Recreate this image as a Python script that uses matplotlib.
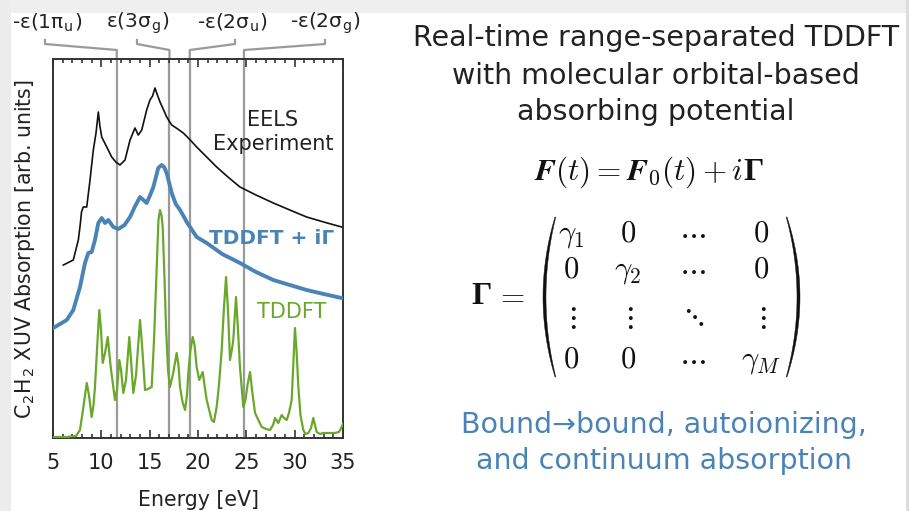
import numpy as np
import matplotlib
matplotlib.use("Agg")
import matplotlib.pyplot as plt
from matplotlib import transforms
from matplotlib.patches import Polygon, Rectangle

plt.rcParams['font.family'] = ['DejaVu Sans']
plt.rcParams['mathtext.fontset'] = 'cm'

W, H = 909, 511

# ---------------- data (energy eV, absorption arb. units) ----------------
eels_E = [6.07, 7.10, 7.62, 7.80, 7.95, 8.13, 8.49, 8.83, 9.17, 9.45, 9.69, 9.85, 10.04,
          10.56, 11.07, 11.50, 11.93, 12.45, 12.97, 13.48, 13.82, 14.18, 14.69, 15.03,
          15.30, 15.55, 15.80, 16.07, 16.40, 16.76, 17.28, 17.90, 18.48, 19.20, 19.86,
          20.90, 21.93, 23.10, 24.34, 26.00, 27.79, 29.50, 31.24, 33.00, 34.86]
eels_V = [173, 178, 198, 212, 226, 231, 231, 258, 288, 305, 326, 312, 301,
          291, 281, 276, 273, 278, 298, 310, 303, 308, 328, 338,
          342, 350, 343, 336, 329, 321, 313, 309, 305, 298, 291,
          281, 271, 261, 251, 243, 235, 228, 221, 216, 211]

tddft_ig_E = [5.03, 6.42, 7.10, 7.79, 8.31, 8.65, 9.00, 9.34, 9.69, 10.04, 10.38, 10.72,
              11.24, 11.75, 12.40, 12.97, 13.50, 14.00, 14.35, 14.69, 15.05, 15.38,
              15.89, 16.24, 16.50, 16.76, 17.28, 17.70, 18.14, 18.50, 18.83, 19.86,
              20.90, 22.50, 24.34, 26.00, 27.79, 29.50, 31.24, 33.00, 34.86]
tddft_ig_V = [110, 118, 128, 151, 175, 185, 186, 198, 215, 220, 215, 218,
              211, 209, 213, 221, 232, 241, 238, 235, 243, 251,
              270, 273, 271, 265, 245, 234, 228, 222, 216, 201,
              195, 184, 175, 166, 158, 153, 148, 144, 140]

tddft_E = [5.00, 6.42, 7.38, 7.79, 8.10, 8.49, 8.72, 9.00, 9.19, 9.34, 9.55, 9.79, 9.97,
           10.14, 10.38, 10.66, 10.97, 11.21, 11.41, 11.62, 11.86, 12.04, 12.27, 12.55,
           12.89, 13.07, 13.31, 13.59, 14.00, 14.21, 14.52, 14.83, 15.21, 15.45, 15.73,
           15.91, 16.07, 16.22, 16.35, 16.54, 16.69, 16.90, 17.10, 17.44, 17.79, 17.98,
           18.14, 18.40, 18.66, 18.86, 19.00, 19.22, 19.45, 19.64, 19.86, 20.13, 20.49,
           20.67, 20.90, 21.41, 21.65, 21.93, 22.17, 22.45, 22.67, 22.90, 23.10, 23.31,
           23.50, 23.65, 23.93, 24.14, 24.34, 24.69, 24.91, 25.12, 25.38, 25.59, 25.90,
           26.59, 27.04, 27.45, 27.76, 27.97, 28.31, 28.66, 28.90, 29.17, 29.41, 29.69,
           29.88, 30.03, 30.19, 30.38, 30.60, 30.89, 31.12, 31.41, 31.69, 31.93, 32.10,
           32.28, 32.62, 32.96, 33.66, 34.17, 34.59, 34.86, 35.00]
tddft_V = [1, 1, 2, 8, 28, 55, 43, 21, 33, 51, 88, 128, 108,
           75, 85, 101, 71, 53, 38, 48, 78, 68, 45, 58,
           101, 78, 45, 63, 118, 93, 48, 49, 51, 98, 171,
           218, 228, 223, 211, 158, 111, 68, 51, 65, 85, 73,
           51, 36, 28, 43, 65, 88, 101, 93, 71, 58, 66,
           53, 38, 18, 16, 31, 53, 88, 128, 161, 128, 78,
           88, 98, 141, 108, 71, 31, 38, 53, 66, 48, 25,
           11, 9, 8, 13, 20, 15, 23, 20, 18, 25, 38,
           78, 110, 88, 51, 23, 8, 4, 5, 10, 20, 13,
           6, 4, 5, 5, 5, 6, 11, 14]

orbital_E = [11.6, 17.05, 19.15, 24.75]
orbital_labels = ['-ε(1π$_\\mathregular{u}$)', 'ε(3σ$_\\mathregular{g}$)',
                  '-ε(2σ$_\\mathregular{u}$)', '-ε(2σ$_\\mathregular{g}$)']
label_E = [4.35, 13.74, 23.52, 33.14]
xticks = [5, 10, 15, 20, 25, 30, 35]

BLACK = '#111111'
BLUE = '#4a84b6'
GREEN = '#6aa82c'
GRAY = '#9a9a9a'


def P(x, y):
    return (x / W, 1 - y / H)


fig = plt.figure(figsize=(W / 100, H / 100), dpi=100)
fig.patch.set_facecolor('white')

# light gray page borders
fig.add_artist(Rectangle(P(0, 13), 1, 13 / H, transform=fig.transFigure,
                         facecolor='#efefef', edgecolor='none', zorder=-5))
fig.add_artist(Rectangle(P(0, H), 11 / W, 1, transform=fig.transFigure,
                         facecolor='#ececec', edgecolor='none', zorder=-5))
fig.add_artist(Rectangle(P(906, H), 3 / W, 1, transform=fig.transFigure,
                         facecolor='#dddddd', edgecolor='none', zorder=-5))

ax = fig.add_axes([53 / W, (H - 438) / H, (343 - 53) / W, (438 - 59) / H])
ax.set_facecolor('none')
ax.set_xlim(5, 35)
ax.set_ylim(0, 379)

for e in orbital_E:
    ax.axvline(e, color=GRAY, lw=1.6, zorder=1)

ax.plot(eels_E, eels_V, color=BLACK, lw=1.2, zorder=3)
ax.plot(tddft_ig_E, tddft_ig_V, color=BLUE, lw=2.8, zorder=3)
ax.plot(tddft_E, tddft_V, color=GREEN, lw=1.6, zorder=3)

for s in ax.spines.values():
    s.set_color('#333333')
    s.set_linewidth(1.4)
ax.set_yticks([])
ax.set_xticks(xticks)
ax.set_xticklabels([str(t) for t in xticks])
ax.set_xticks(np.arange(5, 36, 1), minor=True)
ax.tick_params(axis='x', which='major', direction='in', top=True, bottom=True,
               length=6, width=1.2, labelsize=15, pad=11, colors='#333333',
               labelcolor='#222222')
ax.tick_params(axis='x', which='minor', direction='in', top=True, bottom=True,
               length=3, width=1.2, colors='#333333')

# connectors from orbital labels to vertical lines
blend = transforms.blended_transform_factory(ax.transData, fig.transFigure)
starts = [4.17, 13.69, 23.83, 33.14]
for e0, e1 in zip(starts, orbital_E):
    xs = [e0, e0, e1, e1]
    ys = [1 - 40 / H, 1 - 44 / H, 1 - 50 / H, 1 - 59 / H]
    ax.plot(xs, ys, transform=blend, color=GRAY, lw=1.6, clip_on=False)
for e, lab in zip(label_E, orbital_labels):
    fig.text(e, 1 - 23 / H, lab, transform=blend, ha='center', va='center',
             fontsize=14.5, color='#222222')

# in-plot labels
fig.text(*P(273, 120), 'EELS', ha='center', va='center', fontsize=15, color='#222222')
fig.text(*P(273, 144), 'Experiment', ha='center', va='center', fontsize=15, color='#222222')
fig.text(*P(272, 238), 'TDDFT + iΓ', ha='center', va='center', fontsize=14.5,
         fontweight='bold', color=BLUE)
fig.text(*P(292, 312), 'TDDFT', ha='center', va='center', fontsize=15, color=GREEN)

fig.text(*P(25, 249), 'C$_\\mathregular{2}$H$_\\mathregular{2}$ XUV Absorption [arb. units]',
         rotation=90, ha='center', va='center', fontsize=14.8, color='#222222')
fig.text(*P(198, 500), 'Energy [eV]', ha='center', va='center', fontsize=14.8, color='#222222')

# right-hand side text
title_lines = ['Real-time range-separated TDDFT', 'with molecular orbital-based',
               'absorbing potential']
title_base = [46, 84, 120]
for t, yb in zip(title_lines, title_base):
    fig.text(*P(656, yb), t, ha='center', va='baseline', fontsize=20.5, color='#222222')

# F(t) = F0(t) + i Gamma
fig.text(*P(743, 180), r'$\boldsymbol{F}(t) = \boldsymbol{F}_0(t) + i$',
         ha='right', va='baseline', fontsize=22.5, color='#111111')
fig.text(*P(743, 180), 'Γ', ha='left', va='baseline', fontsize=23,
         fontfamily='Liberation Serif', fontweight='bold', color='#111111')

# Gamma =
fig.text(*P(471, 304), 'Γ', ha='left', va='baseline', fontsize=23,
         fontfamily='Liberation Serif', fontweight='bold', color='#111111')
fig.text(*P(510, 304), r'$=$', ha='center', va='baseline', fontsize=22.5,
         color='#111111')

matrix = [[r'$\gamma_1$', '$0$', r'$\cdots$', '$0$'],
          ['$0$', r'$\gamma_2$', r'$\cdots$', '$0$'],
          [r'$\vdots$', r'$\vdots$', r'$\ddots$', r'$\vdots$'],
          ['$0$', '$0$', r'$\cdots$', r'$\gamma_M$']]
col_x = [571, 628, 692, 761]
row_base = [242, 278, None, 368]
for r, row in enumerate(matrix):
    for c, ent in enumerate(row):
        if row_base[r] is None:
            fig.text(*P(col_x[c], 317), ent, ha='center', va='center', fontsize=22,
                     color='#111111')
        else:
            fig.text(*P(col_x[c], row_base[r]), ent, ha='center', va='baseline',
                     fontsize=22, color='#111111')

# parentheses
t = np.linspace(-1, 1, 60)
yy = 297 + 80 * t
outer_l = 543 + 12 * t ** 2
inner_l = 546.0 + 9.8 * t ** 2
outer_r = 800 - 13 * t ** 2
inner_r = 797.0 - 10.8 * t ** 2
for outer, inner in [(outer_l, inner_l), (outer_r, inner_r)]:
    pts = [P(x, y) for x, y in zip(outer, yy)] + [P(x, y) for x, y in zip(inner[::-1], yy[::-1])]
    fig.add_artist(Polygon(pts, closed=True, transform=fig.transFigure,
                           facecolor='#111111', edgecolor='#111111', lw=0.3))

fig.text(*P(664, 433), 'Bound→bound, autoionizing,', ha='center', va='baseline',
         fontsize=20.5, color=BLUE)
fig.text(*P(664, 469), 'and continuum absorption', ha='center', va='baseline',
         fontsize=20.5, color=BLUE)

fig.savefig('out.png', dpi=100, facecolor='white')
